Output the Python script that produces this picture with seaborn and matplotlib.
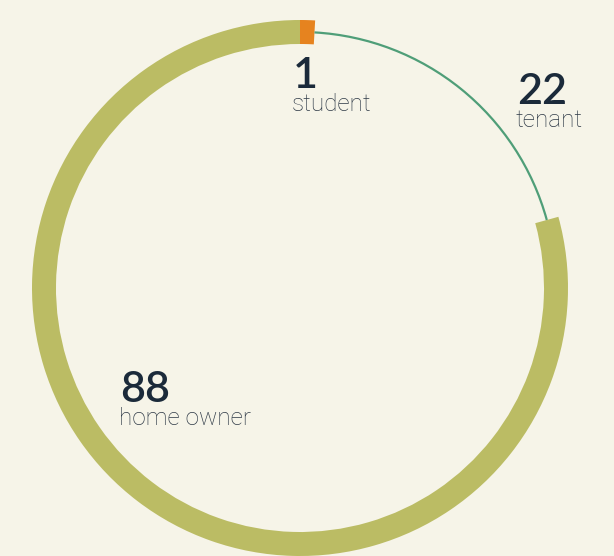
import matplotlib
matplotlib.use("Agg")
import matplotlib.pyplot as plt
from matplotlib.patches import Arc
import seaborn as sns

# data
labels = ["student", "tenant", "home owner"]
counts = [1, 22, 88]

BG = "#f6f4e8"
OLIVE = "#bbbc64"
ORANGE = "#e6831f"
GREEN = "#4f9e78"
NUM_COLOR = "#1b2a3a"
LABEL_COLOR = "#2e3946"

sns.set_theme(style="white")
plt.rcParams["font.family"] = ["Lato", "DejaVu Sans"]

W, H = 614, 556
fig = plt.figure(figsize=(W / 100, H / 100), dpi=100, facecolor=BG)
ax = fig.add_axes([0, 0, 1, 1])
ax.set_facecolor(BG)

cx, cy = 300, H - 288
r_out, ring = 268, 24

wedges, _ = ax.pie(
    counts,
    colors=[ORANGE, BG, OLIVE],
    startangle=90,
    counterclock=False,
    center=(cx, cy),
    radius=r_out,
    wedgeprops=dict(width=ring, linewidth=0),
    frame=True,
)
ax.set_xlim(0, W)
ax.set_ylim(0, H)
ax.set_aspect("equal")
ax.axis("off")

# tenant segment drawn as a thin line on the ring's mid radius
tw = wedges[1]
tw.set_alpha(0)
r_mid = r_out - ring / 2
ax.add_patch(Arc((cx, cy), 2 * r_mid, 2 * r_mid, theta1=tw.theta1, theta2=tw.theta2,
                 color=GREEN, lw=1.6))

# labels (pixel positions of the number baselines)
label_pos = {"student": (293, 88), "tenant": (517, 104), "home owner": (120, 402)}
for lab, n in zip(labels, counts):
    x, yb = label_pos[lab]
    ax.text(x, H - yb, str(n), fontsize=31, color=NUM_COLOR, fontweight="semibold",
            ha="left", va="baseline")
    ax.text(x - 1, H - yb - 23, lab, fontsize=17.5, color=LABEL_COLOR,
            family=["Roboto", "DejaVu Sans"], fontweight="light",
            ha="left", va="baseline")

fig.savefig("out.png", dpi=100, facecolor=BG)
